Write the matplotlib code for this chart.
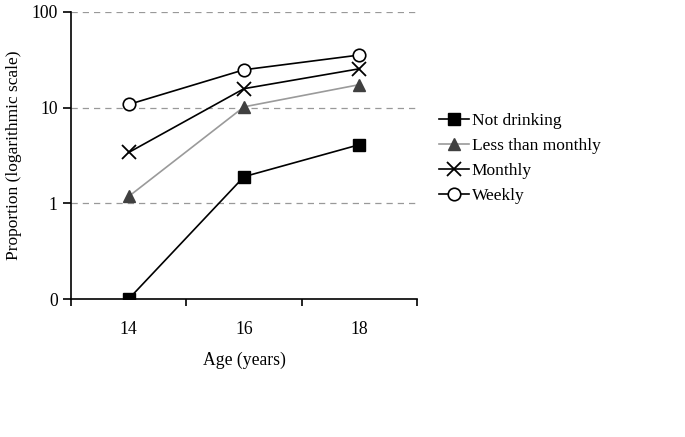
import numpy as np
import matplotlib.pyplot as plt
from matplotlib.ticker import FixedLocator, NullLocator

plt.rcParams['font.family'] = ['Liberation Serif', 'DejaVu Serif']

ages = ['14', '16', '18']
not_drinking = [0.1, 1.9, 4.1]
less_than_monthly = [1.18, 10.2, 17.4]
monthly = [3.4, 15.8, 25.5]
weekly = [10.8, 24.9, 35.5]
ytick_vals = [0.1, 1, 10, 100]
ytick_labels = ['0', '1', '10', '100']

fig = plt.figure(figsize=(6.85, 4.37), dpi=100)
ax = fig.add_axes([71/685, 1 - 299/437, (417 - 71)/685, (299 - 12)/437])

x = np.arange(len(ages))
ax.plot(x, not_drinking, color='black', lw=1.2, marker='s', ms=8,
        mfc='black', mec='black', label='Not drinking', zorder=3)
ax.plot(x, less_than_monthly, color='#9a9a9a', lw=1.2, marker='^', ms=8,
        mfc='#404040', mec='#404040', label='Less than monthly', zorder=3)
ax.plot(x, monthly, color='black', lw=1.2, marker='x', ms=10, mew=1.3,
        label='Monthly', zorder=3)
ax.plot(x, weekly, color='black', lw=1.2, marker='o', ms=9,
        mfc='white', mec='black', mew=1.2, label='Weekly', zorder=3)

ax.set_yscale('log')
ax.set_ylim(0.1, 100)
ax.set_xlim(-0.5, 2.5)
ax.yaxis.set_major_locator(FixedLocator(ytick_vals))
ax.set_yticklabels(ytick_labels)
ax.yaxis.set_minor_locator(NullLocator())
for v in ytick_vals[1:]:
    ax.axhline(v, color='#999999', lw=0.9, ls=(0, (5, 4)), zorder=1)

ax.set_xticks([-0.5, 0.5, 1.5, 2.5])
ax.set_xticklabels([])
ax.set_xticks(x, minor=True)
ax.set_xticklabels(ages, minor=True)
ax.tick_params(axis='x', which='minor', length=0, pad=16, labelsize=12.7)
ax.tick_params(axis='x', which='major', length=5, width=1.2, direction='out')
ax.tick_params(axis='y', which='major', length=6, width=1.2, direction='out', labelsize=12.7)

for s in ['top', 'right']:
    ax.spines[s].set_visible(False)
for s in ['left', 'bottom']:
    ax.spines[s].set_linewidth(1.2)
ax.patch.set_visible(False)

ax.set_xlabel('Age (years)', fontsize=12.7, labelpad=10)
ax.set_ylabel('Proportion (logarithmic scale)', fontsize=12.5, labelpad=7)

fig.legend(loc='upper left', bbox_to_anchor=(432/685, 1 - 106/437), frameon=False,
           fontsize=12.5, handlelength=1.75, handletextpad=0.15, labelspacing=0.5,
           borderaxespad=0)

fig.savefig('out.png', dpi=100)
